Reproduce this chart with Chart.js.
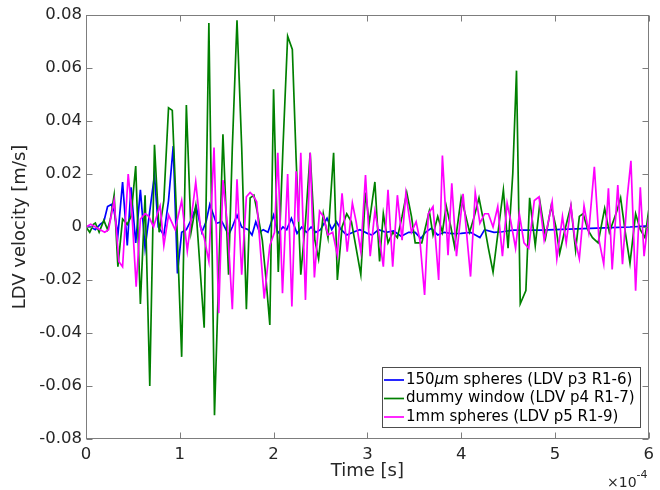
<!DOCTYPE html>
<html>
<head>
<meta charset="utf-8">
<script src="https://cdn.jsdelivr.net/npm/chart.js@4.4.1/dist/chart.umd.min.js"></script>
<style>
  html, body { margin: 0; padding: 0; background: #fff; }
  canvas { display: block; }
</style>
</head>
<body>
<canvas id="c" width="660" height="490"></canvas>
<script>
// time axis in units of 1e-4 s, velocity in m/s (vertices)
const tBlue = [
  0, 0.05, 0.10, 0.15, 0.19, 0.23, 0.27, 0.30, 0.34, 0.39,
  0.44, 0.48, 0.53, 0.58, 0.63, 0.68, 0.73, 0.77, 0.83, 0.88,
  0.93, 0.975, 1.02, 1.07, 1.12, 1.175, 1.235, 1.28, 1.32, 1.39,
  1.45, 1.52, 1.56, 1.61, 1.66, 1.73, 1.77, 1.81, 1.85, 1.89,
  1.94, 2.00, 2.045, 2.10, 2.14, 2.19, 2.25, 2.30, 2.35, 2.40,
  2.45, 2.50, 2.57, 2.62, 2.67, 2.72, 2.78, 2.86, 2.92, 3.00,
  3.05, 3.12, 3.20, 3.28, 3.36, 3.44, 3.51, 3.57, 3.62, 3.68,
  3.75, 3.82, 3.90, 4.00, 4.10, 4.20, 4.25, 4.35, 4.44, 4.55,
  4.70, 4.85, 5.00, 5.30, 5.60, 5.80, 6.00,
];
const vBlue = [
  0, 0, -0.001, 0.001, 0.002, 0.0077, 0.0085, 0.006, -0.003, 0.017,
  -0.007, 0.015, -0.006, 0.014, -0.008, 0.006, 0.0196, 0.0, -0.003, 0.010,
  0.0305, -0.0175, -0.002, -0.001, 0.0026, 0.0077, -0.002, 0.002, 0.0085, 0.0014,
  0.002, -0.003, 0.0, 0.0045, 0.0, -0.001, -0.003, 0.002, -0.002, -0.001,
  -0.002, 0.0045, -0.0024, 0.0, -0.001, 0.0033, -0.0024, 0.0, -0.002, 0.0,
  -0.002, -0.001, 0.0033, -0.001, 0.002, -0.001, -0.003, -0.0018, -0.001, -0.0024,
  -0.003, -0.001, -0.002, -0.0015, -0.0035, -0.002, -0.002, -0.0043, -0.002, -0.0005,
  -0.003, -0.002, -0.0025, -0.0024, -0.002, -0.004, -0.001, -0.002, -0.0018, -0.0012,
  -0.0012, -0.0012, -0.001, -0.0006, -0.0002, 0.0, 0.0004,
];

const tGreen = [
  0, 0.04, 0.08, 0.10, 0.14, 0.19, 0.23, 0.26, 0.30, 0.34,
  0.39, 0.44, 0.48, 0.53, 0.58, 0.63, 0.68, 0.73, 0.78, 0.83,
  0.88, 0.92, 0.97, 1.02, 1.07, 1.12, 1.17, 1.26, 1.31, 1.37,
  1.46, 1.52, 1.56, 1.61, 1.66, 1.71, 1.75, 1.79, 1.83, 1.88,
  1.92, 1.96, 2.00, 2.05, 2.10, 2.15, 2.20, 2.24, 2.29, 2.34,
  2.39, 2.44, 2.48, 2.53, 2.58, 2.64, 2.68, 2.73, 2.78, 2.83,
  2.88, 2.93, 2.98, 3.02, 3.08, 3.13, 3.17, 3.22, 3.27, 3.32,
  3.37, 3.42, 3.47, 3.51, 3.58, 3.62, 3.66, 3.70, 3.75, 3.80,
  3.84, 3.89, 3.93, 4.00, 4.05, 4.09, 4.14, 4.19, 4.24, 4.29,
  4.34, 4.40, 4.45, 4.50, 4.55, 4.59, 4.63, 4.69, 4.73, 4.79,
  4.84, 4.90, 4.96, 5.01, 5.05, 5.10, 5.17, 5.22, 5.26, 5.30,
  5.35, 5.40, 5.46, 5.53, 5.58, 5.62, 5.66, 5.70, 5.75, 5.80,
  5.86, 5.91, 5.96, 6.00,
];
const vGreen = [
  0, -0.002, 0.001, 0.0015, -0.002, 0.0025, -0.001, 0.003, 0.012, -0.015,
  0.003, 0.001, 0.004, 0.023, -0.029, 0.012, -0.060, 0.031, -0.002, 0.010,
  0.045, 0.044, 0.0, -0.049, 0.046, -0.002, 0.008, -0.038, 0.077, -0.071,
  0.035, -0.018, 0.030, 0.078, 0.030, -0.031, 0.011, 0.012, 0.005, -0.005,
  -0.020, -0.037, 0.052, -0.017, 0.030, 0.072, 0.067, 0.026, -0.018, 0.002,
  0.028, -0.005, -0.012, 0.005, -0.004, 0.028, -0.020, 0.0, 0.005, 0.002,
  -0.008, -0.018, 0.013, 0.0015, 0.017, -0.013, 0.005, -0.006, -0.002, -0.004,
  0.004, 0.013, 0.004, -0.006, -0.006, 0.0, 0.006, -0.003, 0.004, -0.002,
  0.008, 0.0, -0.0074, 0.011, 0.004, -0.002, 0.004, 0.011, 0.002, -0.008,
  -0.017, 0.0, 0.014, -0.008, 0.020, 0.059, -0.029, -0.024, 0.011, -0.007,
  0.0095, -0.004, 0.008, 0.0, -0.010, -0.002, 0.008, -0.0087, 0.004, 0.005,
  -0.001, -0.004, -0.006, 0.007, -0.002, 0.002, 0.006, 0.011, -0.002, -0.0137,
  0.005, -0.001, -0.004, 0.0064,
];

const tMag = [
  0, 0.05, 0.10, 0.15, 0.20, 0.24, 0.30, 0.35, 0.39, 0.45,
  0.49, 0.535, 0.58, 0.63, 0.67, 0.72, 0.77, 0.79, 0.83, 0.88,
  0.95, 1.02, 1.08, 1.17, 1.22, 1.26, 1.31, 1.365, 1.415, 1.46,
  1.51, 1.56, 1.61, 1.66, 1.71, 1.75, 1.78, 1.82, 1.90, 1.96,
  2.01, 2.045, 2.095, 2.15, 2.195, 2.24, 2.265, 2.29, 2.34, 2.39,
  2.435, 2.49, 2.53, 2.58, 2.63, 2.68, 2.73, 2.785, 2.84, 2.88,
  2.93, 2.98, 3.03, 3.08, 3.12, 3.17, 3.22, 3.27, 3.32, 3.37,
  3.41, 3.47, 3.52, 3.56, 3.61, 3.65, 3.70, 3.76, 3.80, 3.86,
  3.90, 3.95, 4.02, 4.10, 4.15, 4.20, 4.25, 4.29, 4.34, 4.39,
  4.44, 4.49, 4.53, 4.58, 4.62, 4.67, 4.72, 4.78, 4.83, 4.885,
  4.93, 4.97, 5.02, 5.08, 5.12, 5.17, 5.21, 5.26, 5.31, 5.36,
  5.42, 5.47, 5.52, 5.57, 5.61, 5.67, 5.72, 5.77, 5.81, 5.86,
  5.91, 5.95, 6.00,
];
const vMag = [
  0, 0.001, 0, -0.001, -0.002, -0.001, 0.010, -0.013, -0.015, 0.020,
  0.005, -0.0225, 0.003, 0.005, 0.004, 0.0, 0.006, 0.008, -0.007, 0.0045,
  -0.001, 0.010, -0.009, 0.017, 0.0, -0.004, -0.013, 0.030, -0.0325, 0.0177,
  0.0, -0.031, 0.018, -0.018, 0.0114, 0.013, 0.012, 0.0095, -0.027, -0.007,
  -0.002, 0.028, -0.025, 0.020, -0.030, 0.021, 0.002, 0.028, -0.0275, 0.028,
  -0.019, 0.006, 0.004, -0.003, -0.002, -0.0106, 0.0127, -0.0093, 0.009, 0.002,
  -0.0093, 0.0196, -0.011, 0.006, -0.002, -0.015, 0.014, -0.015, 0.012, -0.005,
  0.0127, -0.002, 0.002, -0.005, -0.0256, 0.005, 0.0077, -0.020, 0.027, -0.0106,
  0.0165, -0.011, 0.0125, -0.0187, 0.013, 0.0014, 0.005, 0.005, 0.0, 0.0077,
  -0.011, 0.009, 0.002, -0.008, 0.005, -0.006, -0.008, 0.010, 0.0114, -0.005,
  0.002, 0.0095, -0.012, 0.004, -0.006, 0.008, -0.004, -0.012, 0.008, -0.002,
  0.0227, -0.005, -0.014, 0.0146, -0.016, 0.0158, -0.014, 0.011, 0.025, -0.024,
  0.015, -0.011, 0.004,
];

const seriesNames = [
  '150μm spheres (LDV p3 R1-6)',
  'dummy window (LDV p4 R1-7)',
  '1mm spheres (LDV p5 R1-9)',
];
const xTitle = 'Time [s]';
const yTitle = 'LDV velocity [m/s]';

const FONT = "'DejaVu Sans', sans-serif";
const AXIS = '#7d7d7d';
const TEXT = '#262626';

const pts = (ts, vs) => ts.map((t, i) => ({ x: t, y: vs[i] }));

// box + inward ticks, axis titles, exponent and legend (matlab look)
const matlabLook = {
  id: 'matlabLook',
  afterDatasetsDraw(chart) {
    const { ctx, chartArea: a, scales: { x, y } } = chart;
    const L = Math.round(a.left) + 0.5, R = Math.round(a.right) - 0.5;
    const T = Math.round(a.top) + 0.5, B = Math.round(a.bottom) - 0.5;
    ctx.save();
    ctx.strokeStyle = AXIS;
    ctx.lineWidth = 1;
    ctx.strokeRect(L, T, R - L, B - T);
    ctx.beginPath();
    x.ticks.forEach((tk) => {
      const px = Math.round(x.getPixelForValue(tk.value)) + 0.5;
      ctx.moveTo(px, B); ctx.lineTo(px, B - 6);
      ctx.moveTo(px, T); ctx.lineTo(px, T + 6);
    });
    y.ticks.forEach((tk) => {
      const py = Math.round(y.getPixelForValue(tk.value)) + 0.5;
      ctx.moveTo(L, py); ctx.lineTo(L + 6, py);
      ctx.moveTo(R, py); ctx.lineTo(R - 6, py);
    });
    ctx.stroke();

    // axis titles
    ctx.fillStyle = TEXT;
    ctx.font = `18px ${FONT}`;
    ctx.textAlign = 'center';
    ctx.textBaseline = 'middle';
    ctx.fillText(xTitle, (a.left + a.right) / 2, 471);
    ctx.save();
    ctx.translate(20, (a.top + a.bottom) / 2);
    ctx.rotate(-Math.PI / 2);
    ctx.fillText(yTitle, 0, 0);
    ctx.restore();

    // x10^-4
    ctx.textAlign = 'left';
    ctx.textBaseline = 'alphabetic';
    ctx.font = `14px ${FONT}`;
    ctx.fillText('×10', 607, 487);
    const w = ctx.measureText('×10').width;
    ctx.font = `11px ${FONT}`;
    ctx.fillText('-4', 607 + w, 478);

    // legend box
    const bx = 382, by = 367, bw = 258, bh = 60;
    ctx.fillStyle = '#fff';
    ctx.fillRect(bx, by, bw, bh);
    ctx.strokeStyle = '#4d4d4d';
    ctx.strokeRect(bx + 0.5, by + 0.5, bw, bh);
    chart.data.datasets.forEach((ds, i) => {
      const ry = by + 13 + i * 18.5;
      ctx.strokeStyle = ds.borderColor;
      ctx.lineWidth = 1.7;
      ctx.beginPath();
      ctx.moveTo(bx + 2, ry); ctx.lineTo(bx + 22, ry);
      ctx.stroke();
      ctx.fillStyle = '#000';
      ctx.textBaseline = 'middle';
      let tx = bx + 24;
      ds.label.split(/(μ)/).forEach((part) => {
        ctx.font = part === 'μ' ? `italic 15px ${FONT}` : `15px ${FONT}`;
        ctx.fillText(part, tx, ry);
        tx += ctx.measureText(part).width;
      });
    });
    ctx.restore();
  },
};

new Chart(document.getElementById('c').getContext('2d'), {
  type: 'line',
  data: {
    datasets: [
      { label: seriesNames[0], data: pts(tBlue, vBlue), borderColor: '#0000ff', order: 2 },
      { label: seriesNames[1], data: pts(tGreen, vGreen), borderColor: '#008000', order: 1 },
      { label: seriesNames[2], data: pts(tMag, vMag), borderColor: '#ff00ff', order: 0 },
    ],
  },
  options: {
    responsive: false,
    animation: false,
    parsing: false,
    layout: { padding: { top: 15, right: 6, left: 0, bottom: 0 } },
    elements: {
      line: { borderWidth: 1.7, tension: 0, fill: false },
      point: { radius: 0 },
    },
    plugins: { legend: { display: false }, tooltip: { enabled: false } },
    scales: {
      x: {
        type: 'linear', min: 0, max: 6,
        grid: { display: false, drawTicks: false },
        border: { display: false },
        ticks: { stepSize: 1, color: TEXT, font: { family: FONT, size: 16.5 }, padding: 6, maxRotation: 0 },
        afterFit: (s) => { s.height = 51; },
      },
      y: {
        type: 'linear', min: -0.08, max: 0.08,
        grid: { display: false, drawTicks: false },
        border: { display: false },
        ticks: {
          stepSize: 0.02, color: TEXT, font: { family: FONT, size: 16.5 }, padding: 4,
          callback: (v) => (Math.abs(v) < 1e-9 ? '0' : v.toFixed(2)),
        },
        afterFit: (s) => { s.width = 86; },
      },
    },
  },
  plugins: [matlabLook],
});
</script>
</body>
</html>
